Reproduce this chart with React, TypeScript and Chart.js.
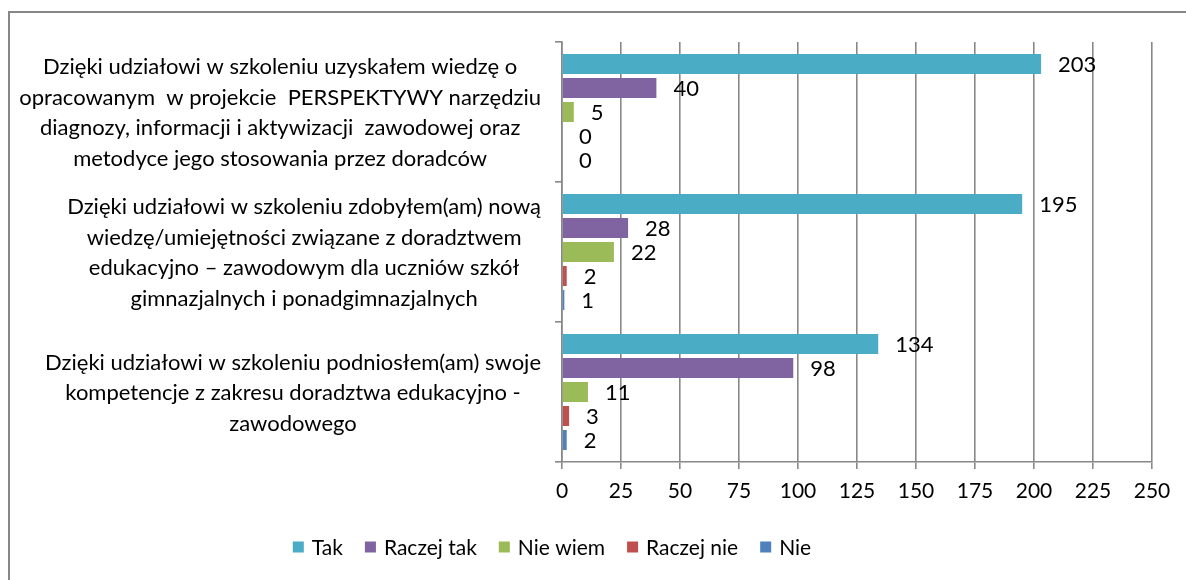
import React, { useEffect, useRef } from 'react';
import { Chart, registerables } from 'chart.js';

Chart.register(...registerables);

const categoryLines: string[][] = [
  [
    'Dzięki udziałowi w szkoleniu uzyskałem wiedzę o',
    'opracowanym  w projekcie  PERSPEKTYWY narzędziu',
    'diagnozy, informacji i aktywizacji  zawodowej oraz',
    'metodyce jego stosowania przez doradców',
  ],
  [
    'Dzięki udziałowi w szkoleniu zdobyłem(am) nową',
    'wiedzę/umiejętności związane z doradztwem',
    'edukacyjno – zawodowym dla uczniów szkół',
    'gimnazjalnych i ponadgimnazjalnych',
  ],
  [
    'Dzięki udziałowi w szkoleniu podniosłem(am) swoje',
    'kompetencje z zakresu doradztwa edukacyjno -',
    'zawodowego',
  ],
];

const seriesNames = ['Tak', 'Raczej tak', 'Nie wiem', 'Raczej nie', 'Nie'];
const tak = [203, 195, 134];
const raczejTak = [40, 28, 98];
const nieWiem = [5, 22, 11];
const raczejNie = [0, 2, 3];
const nie = [0, 1, 2];
const seriesValues = [tak, raczejTak, nieWiem, raczejNie, nie];
const seriesColors = ['#4BACC6', '#8064A2', '#9BBB59', '#C0504D', '#4F81BD'];
const xMin = 0;
const xMax = 250;
const xStep = 25;

const FONT = 'Lato, "Open Sans", sans-serif';
const GRID = '#888888';

const overlay = {
  id: 'overlay',
  beforeDraw(chart: any) {
    const ctx = chart.ctx;
    ctx.save();
    ctx.fillStyle = '#ffffff';
    ctx.fillRect(0, 0, chart.width, chart.height);
    ctx.strokeStyle = '#878787';
    ctx.lineWidth = 2;
    ctx.beginPath();
    ctx.moveTo(9, chart.height + 2);
    ctx.lineTo(9, 12);
    ctx.lineTo(chart.width + 2, 12);
    ctx.stroke();
    ctx.restore();
  },
  afterDatasetsDraw(chart: any) {
    const ctx = chart.ctx;
    ctx.save();
    ctx.font = `22px ${FONT}`;
    ctx.fillStyle = '#000';
    ctx.textAlign = 'left';
    ctx.textBaseline = 'middle';
    chart.data.datasets.forEach((ds: any, di: number) => {
      const meta = chart.getDatasetMeta(di);
      meta.data.forEach((el: any, i: number) => {
        ctx.fillText(String(ds.data[i]), el.x + 17, el.y + 1);
      });
    });
    ctx.restore();
  },
  afterDraw(chart: any) {
    const ctx = chart.ctx;
    const yScale = chart.scales.y;
    ctx.save();
    // category labels
    ctx.font = `22px ${FONT}`;
    ctx.fillStyle = '#000';
    ctx.textAlign = 'center';
    ctx.textBaseline = 'middle';
    const lh = 30.5;
    const blockRight = 541;
    categoryLines.forEach((lines, i) => {
      const cy = yScale.getPixelForValue(i);
      let widest = 0;
      lines.forEach((l) => { widest = Math.max(widest, ctx.measureText(l).width); });
      const cx = blockRight - widest / 2;
      const y0 = cy - ((lines.length - 1) * lh) / 2;
      lines.forEach((l, k) => ctx.fillText(l, cx, y0 + k * lh + 1));
    });
    // legend
    ctx.font = `21px ${FONT}`;
    ctx.textAlign = 'left';
    const box = 11;
    const gapBoxText = 8;
    const gapItems = 22;
    const widths = seriesNames.map((n) => ctx.measureText(n).width);
    let total = 0;
    widths.forEach((w, i) => { total += box + gapBoxText + w + (i < widths.length - 1 ? gapItems : 0); });
    let x = 552 - total / 2;
    const ly = 547;
    seriesNames.forEach((n, i) => {
      ctx.fillStyle = seriesColors[i];
      ctx.fillRect(x, ly - box / 2, box, box);
      ctx.fillStyle = '#000';
      ctx.fillText(n, x + box + gapBoxText, ly + 1);
      x += box + gapBoxText + widths[i] + gapItems;
    });
    ctx.restore();
  },
};

export default function App() {
  const ref = useRef<HTMLCanvasElement | null>(null);
  useEffect(() => {
    if (!ref.current) return;
    const chart = new Chart(ref.current, {
      type: 'bar',
      data: {
        labels: categoryLines.map((l) => l.join(' ')),
        datasets: seriesNames.map((name, i) => ({
          label: name,
          data: seriesValues[i],
          backgroundColor: seriesColors[i],
          borderWidth: 0,
          categoryPercentage: 0.857,
          barPercentage: 0.833,
        })),
      },
      options: {
        indexAxis: 'y',
        animation: false,
        responsive: false,
        maintainAspectRatio: false,
        devicePixelRatio: 1,
        layout: { padding: { left: 0, top: 42, right: 34, bottom: 0 } },
        plugins: {
          legend: { display: false },
          tooltip: { enabled: false },
          title: { display: false },
        },
        scales: {
          x: {
            type: 'linear',
            position: 'bottom',
            min: xMin,
            max: xMax,
            ticks: {
              stepSize: xStep,
              color: '#000',
              font: { family: FONT, size: 21 },
              padding: 10,
              maxRotation: 0,
            },
            grid: {
              color: GRID,
              lineWidth: 1.6,
              drawTicks: true,
              tickLength: 7,
              tickColor: GRID,
            },
            border: { display: true, color: GRID, width: 1.6 },
            afterFit(scale: any) { scale.height = 118; },
          },
          y: {
            type: 'category',
            position: 'left',
            offset: true,
            ticks: { display: false },
            grid: {
              offset: true,
              drawOnChartArea: false,
              drawTicks: true,
              tickLength: 7,
              color: GRID,
              lineWidth: 1.6,
            },
            border: { display: true, color: GRID, width: 1.6 },
            afterFit(scale: any) { scale.width = 562; },
          },
        },
      },
      plugins: [overlay],
    } as any);
    return () => chart.destroy();
  }, []);
  return (
    <div style={{ position: 'fixed', left: 0, top: 0, width: 1186, height: 580 }}>
      <canvas ref={ref} width={1186} height={580} style={{ display: 'block', width: 1186, height: 580 }} />
    </div>
  );
}
